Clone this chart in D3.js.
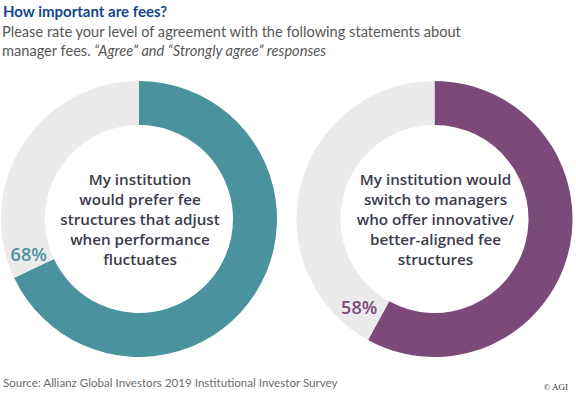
<!DOCTYPE html>
<html>
<head>
<meta charset="utf-8">
<script src="https://cdn.jsdelivr.net/npm/d3@7"></script>
<style>
    body { margin: 0; background: #fff; }
    svg { display: block; font-family: Lato, "Open Sans", sans-serif; }
</style>
</head>
<body>
<div id="chart"></div>
<script>
// Chart data
const statementLines = [
    ["My institution", "would prefer fee", "structures that adjust", "when performance", "fluctuates"],
    ["My institution would", "switch to managers", "who offer innovative/", "better-aligned fee", "structures"]
];
const agreeShares = [68, 58];
const titleText = "How important are fees?";
const subtitleLines = [
    "Please rate your level of agreement with the following statements about",
    ["manager fees. ", "\u201cAgree\u201d and \u201cStrongly agree\u201d responses"]
];
const sourceText = "Source: Allianz Global Investors 2019 Institutional Investor Survey";
const copyrightText = "\u00a9 AGI";

// Styling
const ringColors = ["#4a929d", "#7b4a79"];
const restColor = "#ebebeb";
const width = 576, height = 397;
const outerR = 138, innerR = 94;
const centers = [{ x: 139, y: 219 }, { x: 434.5, y: 219 }];
const labelShift = [7.2, 11.7]; // degrees past the end of the coloured arc
const lineGap = 20;

let svg = d3.select("#chart")
    .append("svg")
    .attr("width", width)
    .attr("height", height);

// Title and subtitle
svg.append("text")
    .attr("x", 3).attr("y", 17)
    .attr("font-size", 15).attr("font-weight", 700)
    .attr("fill", "#13478b")
    .text(titleText);

svg.append("text")
    .attr("x", 2).attr("y", 37)
    .attr("font-size", 14.6).attr("fill", "#575757")
    .text(subtitleLines[0]);

let sub2 = svg.append("text")
    .attr("x", 2).attr("y", 56)
    .attr("font-size", 14.6).attr("fill", "#575757");
sub2.append("tspan").text(subtitleLines[1][0]);
sub2.append("tspan").attr("font-style", "italic").text(subtitleLines[1][1]);

// Donuts
let pie = d3.pie().sort(null).value(d => d);
let arc = d3.arc().innerRadius(innerR).outerRadius(outerR);
let labelArc = d3.arc().innerRadius((innerR + outerR) / 2).outerRadius((innerR + outerR) / 2);

agreeShares.forEach((share, i) => {
    let g = svg.append("g")
        .attr("transform", "translate(" + centers[i].x + "," + centers[i].y + ")");

    let slices = pie([share, 100 - share]);

    g.selectAll("path")
        .data(slices)
        .enter()
        .append("path")
        .attr("d", arc)
        .attr("fill", (d, j) => j === 0 ? ringColors[i] : restColor);

    // percentage label sits in the grey part, just after the coloured arc
    let a = slices[0].endAngle + labelShift[i] * Math.PI / 180;
    let pos = labelArc.centroid({ startAngle: a, endAngle: a });
    g.append("text")
        .attr("x", pos[0]).attr("y", pos[1])
        .attr("dy", "0.36em")
        .attr("text-anchor", "middle")
        .attr("font-family", "'Open Sans', sans-serif")
        .attr("font-size", 18).attr("font-weight", 600)
        .attr("fill", ringColors[i])
        .text(share + "%");

    // statement in the middle, one text block with a tspan per line
    let lines = statementLines[i];
    g.append("text")
        .attr("text-anchor", "middle")
        .attr("font-family", "'Open Sans', sans-serif")
        .attr("font-size", 15.2).attr("font-weight", 600)
        .attr("fill", "#3b3b4b")
        .selectAll("tspan")
        .data(lines)
        .enter()
        .append("tspan")
        .attr("x", 1)
        .attr("y", (d, k) => (k - (lines.length - 1) / 2) * lineGap + 1)
        .attr("dy", "0.36em")
        .text(d => d);
});

// Footer
svg.append("text")
    .attr("x", 3).attr("y", 387)
    .attr("font-size", 11.6).attr("fill", "#6d6d6d")
    .text(sourceText);

svg.append("text")
    .attr("x", 568).attr("y", 390)
    .attr("text-anchor", "end")
    .attr("font-size", 9).attr("font-family", "Liberation Serif, serif")
    .attr("fill", "#333")
    .text(copyrightText);
</script>
</body>
</html>
